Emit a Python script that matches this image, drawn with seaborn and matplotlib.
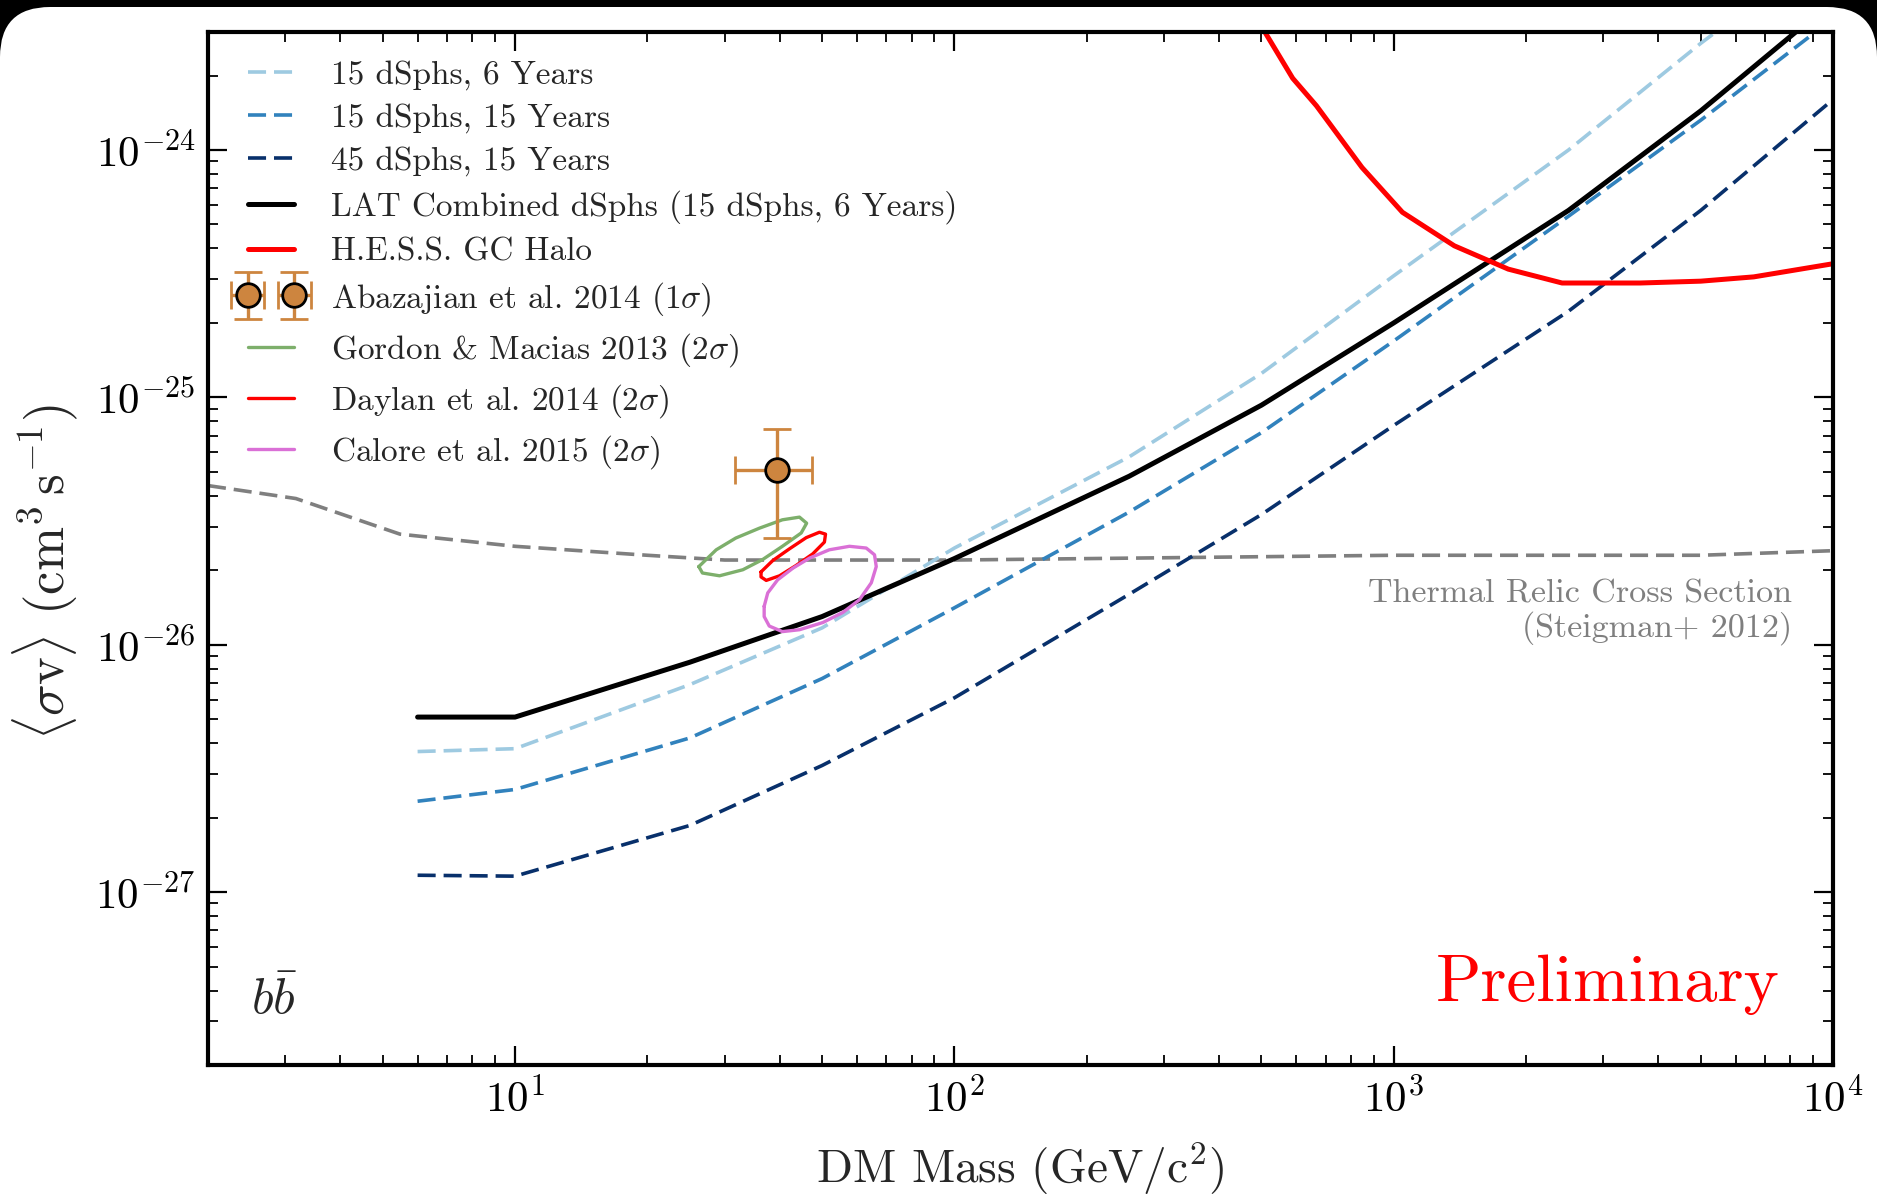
import numpy as np
import matplotlib
matplotlib.use('Agg')
import matplotlib.pyplot as plt
from matplotlib.patches import FancyBboxPatch
from matplotlib.transforms import IdentityTransform
from matplotlib.ticker import LogLocator, NullFormatter
from matplotlib.legend_handler import HandlerErrorbar
import seaborn as sns

# Limit curves (DM mass in GeV, <sigma v> in cm^3/s)
mass = [6, 10, 25, 50, 100, 250, 500, 1000, 2500, 5000, 10000]
lat_combined = [5.1e-27, 5.1e-27, 8.5e-27, 1.3e-26, 2.23e-26, 4.8e-26, 9.3e-26, 2.0e-25, 5.7e-25, 1.44e-24, 4.0e-24]
dsph15_6yr = [3.7e-27, 3.8e-27, 6.9e-27, 1.17e-26, 2.46e-26, 5.75e-26, 1.25e-25, 3.1e-25, 1.0e-24, 2.7e-24, 6.8e-24]
dsph15_15yr = [2.33e-27, 2.6e-27, 4.2e-27, 7.3e-27, 1.41e-26, 3.44e-26, 7.2e-26, 1.69e-25, 5.4e-25, 1.32e-24, 3.4e-24]
dsph45_15yr = [1.17e-27, 1.16e-27, 1.86e-27, 3.25e-27, 6.1e-27, 1.6e-26, 3.36e-26, 7.7e-26, 2.23e-25, 5.7e-25, 1.6e-24]

# H.E.S.S. GC halo
hess_mass = [470, 509, 589, 667, 847, 1047, 1374, 1823, 2417, 3640, 5000, 6600, 10000]
hess_sv = [3.8e-24, 3.0e-24, 1.95e-24, 1.51e-24, 8.5e-25, 5.6e-25, 4.1e-25, 3.3e-25, 2.9e-25, 2.9e-25, 2.95e-25, 3.07e-25, 3.47e-25]

# Thermal relic cross section (Steigman+ 2012)
relic_mass = [2, 3.17, 5.47, 10, 20, 30, 100, 1000, 5000, 10000]
relic_sv = [4.4e-26, 3.9e-26, 2.8e-26, 2.5e-26, 2.3e-26, 2.2e-26, 2.2e-26, 2.3e-26, 2.3e-26, 2.4e-26]

# Abazajian et al. 2014 point
abaz_mass, abaz_sv = 39.5, 5.09e-26
abaz_mass_lo, abaz_mass_hi = 31.6, 47.4
abaz_sv_lo, abaz_sv_hi = 2.70e-26, 7.46e-26

# GC excess contours
gordon_mass = [26.2, 28.7, 31.8, 36.0, 40.6, 44.4, 46.1, 44.8, 40.6, 36.6, 33.0, 29.2, 26.7, 26.2]
gordon_sv = [2.07e-26, 2.42e-26, 2.70e-26, 2.96e-26, 3.20e-26, 3.28e-26, 3.10e-26, 2.83e-26, 2.50e-26, 2.21e-26, 2.01e-26, 1.90e-26, 1.95e-26, 2.07e-26]
daylan_mass = [36.3, 38.6, 42.1, 46.0, 49.3, 50.9, 50.6, 47.6, 43.6, 40.0, 37.3, 36.3, 36.3]
daylan_sv = [1.97e-26, 2.19e-26, 2.44e-26, 2.71e-26, 2.85e-26, 2.80e-26, 2.60e-26, 2.33e-26, 2.09e-26, 1.90e-26, 1.82e-26, 1.88e-26, 1.97e-26]
calore_mass = [36.9, 37.6, 39.6, 42.9, 46.8, 51.9, 57.7, 63.0, 65.8, 66.4, 64.7, 60.8, 55.7, 50.2, 44.4, 40.6, 37.9, 36.9, 36.9]
calore_sv = [1.43e-26, 1.62e-26, 1.83e-26, 2.04e-26, 2.24e-26, 2.42e-26, 2.50e-26, 2.46e-26, 2.31e-26, 2.07e-26, 1.78e-26,
             1.52e-26, 1.35e-26, 1.23e-26, 1.15e-26, 1.13e-26, 1.19e-26, 1.30e-26, 1.43e-26]

x_ticks = [10, 100, 1000, 10000]
y_ticks = [1e-27, 1e-26, 1e-25, 1e-24]

sns.set_style('ticks')
plt.rcParams['font.family'] = 'serif'
plt.rcParams['font.serif'] = ['cmr10']
plt.rcParams['mathtext.fontset'] = 'cm'
plt.rcParams['axes.formatter.use_mathtext'] = True
plt.rcParams['axes.unicode_minus'] = False
plt.rcParams['lines.dashed_pattern'] = [5.0, 2.2]

W, H = 1877, 1197
fig = plt.figure(figsize=(W / 100, H / 100), dpi=100)
fig.patch.set_facecolor('black')
# white rounded slide panel
panel = FancyBboxPatch((0, -80), W, H - 7 + 80, boxstyle='round,pad=0,rounding_size=50',
                       transform=IdentityTransform(), facecolor='white', edgecolor='none', zorder=-5)
fig.add_artist(panel)

ax = fig.add_axes([208 / W, 1 - 1065 / H, 1625 / W, 1033 / H])
ax.set_facecolor('white')
ax.set_xscale('log')
ax.set_yscale('log')

sns.lineplot(x=relic_mass, y=relic_sv, ax=ax, color='#7f7f7f', linewidth=2.6, linestyle='--')
h1 = sns.lineplot(x=mass, y=dsph15_6yr, ax=ax, color='#9ecae1', linewidth=2.6, linestyle='--').lines[-1]
h2 = sns.lineplot(x=mass, y=dsph15_15yr, ax=ax, color='#3182bd', linewidth=2.6, linestyle='--').lines[-1]
h3 = sns.lineplot(x=mass, y=dsph45_15yr, ax=ax, color='#08306b', linewidth=2.6, linestyle='--').lines[-1]
h4 = sns.lineplot(x=mass, y=lat_combined, ax=ax, color='black', linewidth=3.6).lines[-1]
h5 = sns.lineplot(x=hess_mass, y=hess_sv, ax=ax, color='#ff0000', linewidth=3.6).lines[-1]
h7 = sns.lineplot(x=gordon_mass, y=gordon_sv, ax=ax, sort=False, estimator=None, color='#7daf6b', linewidth=2.4).lines[-1]
h8 = sns.lineplot(x=daylan_mass, y=daylan_sv, ax=ax, sort=False, estimator=None, color='#ff0000', linewidth=2.4).lines[-1]
h9 = sns.lineplot(x=calore_mass, y=calore_sv, ax=ax, sort=False, estimator=None, color='#da70d6', linewidth=2.4).lines[-1]

h6 = ax.errorbar([abaz_mass], [abaz_sv],
                 xerr=[[abaz_mass - abaz_mass_lo], [abaz_mass_hi - abaz_mass]],
                 yerr=[[abaz_sv - abaz_sv_lo], [abaz_sv_hi - abaz_sv]],
                 fmt='o', color='#cd853f', ecolor='#cd853f', markersize=17, markeredgecolor='black',
                 markeredgewidth=2, elinewidth=2.4, capsize=10, capthick=2.4, zorder=5)

ax.set_xlim(2, 1e4)
ax.set_ylim(2e-28, 3e-24)

for s in ax.spines.values():
    s.set_linewidth(3)
    s.set_color('black')
ax.set_xticks(x_ticks)
ax.set_yticks(y_ticks)
ax.xaxis.set_minor_locator(LogLocator(base=10, subs=np.arange(2, 10), numticks=100))
ax.yaxis.set_minor_locator(LogLocator(base=10, subs=np.arange(2, 10), numticks=100))
ax.xaxis.set_minor_formatter(NullFormatter())
ax.yaxis.set_minor_formatter(NullFormatter())
ax.tick_params(which='both', direction='in', top=True, right=True, colors='black')
ax.tick_params(which='major', length=14, width=1.6, labelsize=31, pad=9)
ax.tick_params(which='minor', length=7, width=1.3)

ax.set_xlabel(r'DM Mass (GeV/c$^2$)', fontsize=34)
ax.set_ylabel(r'$\langle \sigma \mathrm{v} \rangle$ $(\mathrm{cm}^3\,\mathrm{s}^{-1})$', fontsize=38)
ax.xaxis.set_label_coords(0.5, -0.073)
ax.yaxis.set_label_coords(-0.079, 0.477)

ax.text(0.9748, 0.470, 'Thermal Relic Cross Section\n(Steigman+ 2012)', transform=ax.transAxes,
        ha='right', va='top', multialignment='right', fontsize=24.5, color='#7f7f7f', linespacing=1.1)
ax.text(0.967, 0.062, 'Preliminary', transform=ax.transAxes, ha='right', va='baseline',
        fontsize=48, color='#ff0000')
ax.text(0.0265, 0.049, r'$b\bar{b}$', transform=ax.transAxes, ha='left', va='baseline', fontsize=36)

handles = [h1, h2, h3, h4, h5, h6, h7, h8, h9]
labels = ['15 dSphs, 6 Years', '15 dSphs, 15 Years', '45 dSphs, 15 Years',
          'LAT Combined dSphs (15 dSphs, 6 Years)', 'H.E.S.S. GC Halo',
          r'Abazajian et al. 2014 (1$\sigma$)', r'Gordon & Macias 2013 (2$\sigma$)',
          r'Daylan et al. 2014 (2$\sigma$)', r'Calore et al. 2015 (2$\sigma$)']
ax.legend(handles, labels, loc='upper left', bbox_to_anchor=(0.0245, 0.973), frameon=False,
          fontsize=24, numpoints=1, handlelength=1.4, handletextpad=1.1, labelspacing=0.40,
          borderpad=0, borderaxespad=0,
          handler_map={h6: HandlerErrorbar(numpoints=2, marker_pad=0, xerr_size=0.5, yerr_size=0.7)})

fig.savefig('out.png', dpi=100, facecolor=fig.get_facecolor())
